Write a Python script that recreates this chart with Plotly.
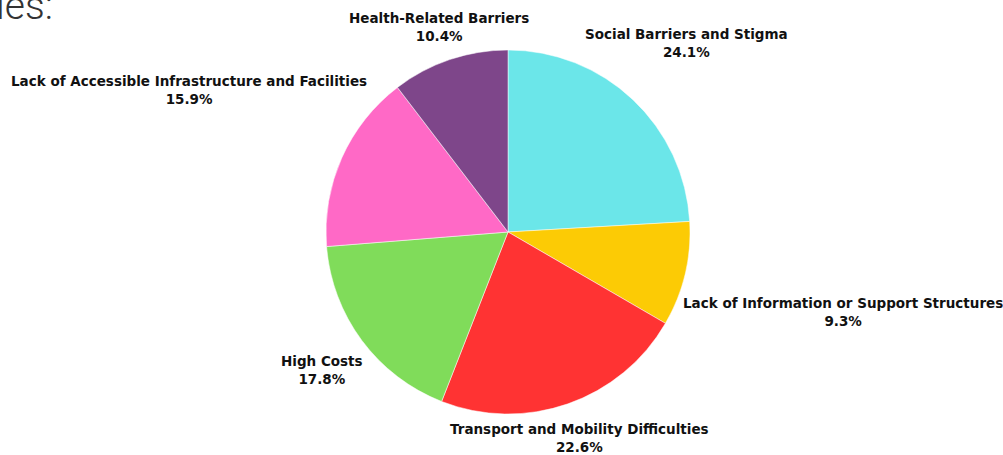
import math
import plotly.graph_objects as go

# Barrier categories and their shares (%)
categories = [
    "Social Barriers and Stigma",
    "Lack of Information or Support Structures",
    "Transport and Mobility Difficulties",
    "High Costs",
    "Lack of Accessible Infrastructure and Facilities",
    "Health-Related Barriers",
]
shares = [24.1, 9.3, 22.6, 17.8, 15.9, 10.4]
slice_colors = ["#6BE6E9", "#FCCB05", "#FF3333", "#80DC5A", "#FF69C6", "#7E468A"]

W, H = 1003, 455
cx, cy, r = 508, 232, 182

# distance (px) from the pie centre to each label's centre, along the slice bisector
label_dist = [260, 344, 218, 232, 349, 216]

fig = go.Figure(
    go.Pie(
        labels=categories,
        values=shares,
        sort=False,
        direction="clockwise",
        rotation=0,
        marker=dict(colors=slice_colors, line=dict(color="white", width=0.5)),
        textinfo="none",
        showlegend=False,
        hoverinfo="label+percent",
        domain=dict(
            x=[(cx - r) / W, (cx + r) / W],
            y=[(H - cy - r) / H, (H - cy + r) / H],
        ),
    )
)

# Outside labels placed on each slice's bisector
total = sum(shares)
acc = 0.0
for name, val, dist in zip(categories, shares, label_dist):
    mid = (acc + val / 2) / total * 2 * math.pi
    acc += val
    px = cx + dist * math.sin(mid)
    py = cy - dist * math.cos(mid)
    fig.add_annotation(
        text=f"<b>{name}</b><br><b>{val:.1f}%</b>",
        xref="paper", yref="paper",
        x=px / W, y=1 - py / H,
        xanchor="center", yanchor="middle",
        showarrow=False, align="center",
        font=dict(family="DejaVu Sans", size=13.5, color="#111111"),
    )

# Tail of the section heading above the chart
fig.add_annotation(
    text="ies:",
    xref="paper", yref="paper",
    x=-6 / W, y=1 - 31 / H,
    xanchor="left", yanchor="bottom",
    showarrow=False,
    font=dict(family="Roboto", size=39, color="#333333", weight=300),
)

fig.update_layout(
    width=W, height=H,
    margin=dict(l=0, r=0, t=0, b=0),
    paper_bgcolor="white",
    plot_bgcolor="white",
)

fig.write_html("out.html")
